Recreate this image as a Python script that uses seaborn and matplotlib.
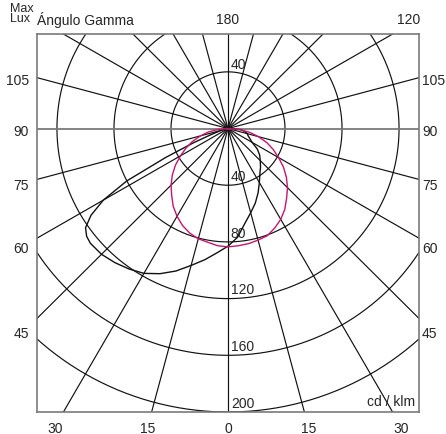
import numpy as np
import pandas as pd
import matplotlib
matplotlib.use("Agg")
import matplotlib.pyplot as plt
import matplotlib.transforms as mtransforms
import seaborn as sns

# ============================
# DATA (cd/klm)
# ============================

# C0 - C180 plane (black), left half = C180, right half = C0
GAMMA_C180 = [0, 5, 10, 15, 20, 25, 30, 35, 40, 45, 50, 52.5, 55, 57.5, 60, 62.5, 65, 67.5, 70, 75, 80, 90]
I_C180 = [83, 88, 94, 100, 107, 113, 118, 121, 123.5, 125.5, 126, 125, 122, 114, 101, 80, 48, 26, 13, 5, 2, 0]

GAMMA_C0 = [0, 5, 10, 15, 20, 25, 30, 35, 40, 45, 50, 55, 60, 65, 70, 75, 80, 85, 90]
I_C0 = [83.5, 77, 68, 61.5, 56, 50, 44, 39, 35.5, 32, 29, 25, 19.5, 17, 15, 14, 12, 9, 0]

# C90 - C270 plane (magenta)
GAMMA_C90 = [0, 5, 10, 15, 20, 25, 30, 35, 40, 45, 50, 55, 60, 65, 70, 75, 80, 85, 90]
I_C270 = [83.5, 83, 81.5, 80.5, 78.5, 75.5, 71.5, 67, 61.5, 56.5, 51, 45, 38.5, 32.5, 26.5, 20, 14, 7, 0]
I_C90 = [83.5, 83, 82.5, 81.5, 80.5, 77.5, 74, 69.5, 64, 59, 53.5, 47.5, 41, 35, 29, 22, 15.5, 8, 0]

RINGS = [40, 80, 120, 160, 200]
SIDE_TICKS = [105, 90, 75, 60, 45]
BOTTOM_TICKS = [30, 15, 0, 15, 30]
BOTTOM_SIGN = [-1, -1, 0, 1, 1]

# ============================
# LAYOUT
# ============================

W, H = 446, 435
XMAX = 134
YTOP = 66.7
YBOT = -200
BLACK = "#111111"
MAGENTA = "#c8146e"
GRAY = "#7a7a7a"


def half_curve(gammas, values, side):
    g = np.radians(np.array(gammas, dtype=float))
    r = np.array(values, dtype=float)
    return side * r * np.sin(g), -r * np.cos(g)


def plane_frame(g_left, i_left, g_right, i_right):
    xl, yl = half_curve(g_left, i_left, -1)
    xr, yr = half_curve(g_right, i_right, 1)
    x = np.concatenate([xl[::-1], xr[1:]])
    y = np.concatenate([yl[::-1], yr[1:]])
    return pd.DataFrame({"x": x, "y": y})


sns.set_style("white")
plt.rcParams["font.family"] = ["Liberation Sans", "DejaVu Sans"]

fig = plt.figure(figsize=(W / 100, H / 100), dpi=100)
ax = fig.add_axes([37 / W, 22 / H, 382 / W, 378 / H])
ax.set_xlim(-XMAX, XMAX)
ax.set_ylim(YBOT, YTOP)

# spokes every 15 degrees
for ang in range(0, 360, 15):
    a = np.radians(ang)
    horiz = ang in (90, 270)
    ax.plot([0, 400 * np.sin(a)], [0, -400 * np.cos(a)],
            color=GRAY if horiz else BLACK,
            lw=1.3 if horiz else 0.85, zorder=2 if horiz else 1)

# rings
t = np.linspace(0, 2 * np.pi, 400)
for r in RINGS:
    ax.plot(r * np.cos(t), r * np.sin(t), color=BLACK, lw=0.85, zorder=1)

# ring labels
ax.text(2, 40.5, "40", fontsize=10, ha="left", va="bottom", zorder=3)
for r in RINGS:
    ax.text(2, -r + 1.5, str(r), fontsize=10, ha="left", va="bottom", zorder=3)

# photometric curves
black_df = plane_frame(GAMMA_C180, I_C180, GAMMA_C0, I_C0)
magenta_df = plane_frame(GAMMA_C90, I_C270, GAMMA_C90, I_C90)
sns.lineplot(data=black_df, x="x", y="y", sort=False, estimator=None,
             color=BLACK, lw=1.0, ax=ax, zorder=4)
sns.lineplot(data=magenta_df, x="x", y="y", sort=False, estimator=None,
             color=MAGENTA, lw=1.0, ax=ax, zorder=4)

ax.set_xticks([])
ax.set_yticks([])
ax.set_xlabel("")
ax.set_ylabel("")
for s in ax.spines.values():
    s.set_color(GRAY)
    s.set_linewidth(1.2)
    s.set_visible(True)

# side labels (gamma angles where the spokes meet the frame)
side_tr = mtransforms.blended_transform_factory(ax.transAxes, ax.transData)
for g in SIDE_TICKS:
    yh = -XMAX * np.cos(np.radians(g)) / np.sin(np.radians(g))
    yl = yh - 2 - 0.06 * max(0, -yh)
    ax.text(-0.021, yl, str(g), transform=side_tr, ha="right", va="center",
            fontsize=10, clip_on=False)
    ax.text(1.008, yl, str(g), transform=side_tr, ha="left", va="center",
            fontsize=10, clip_on=False)

# bottom labels
for g, sgn in zip(BOTTOM_TICKS, BOTTOM_SIGN):
    xh = sgn * abs(YBOT) * np.tan(np.radians(g)) * 1.05
    ax.text(xh, YBOT - 11, str(g), ha="center", va="center", fontsize=10, clip_on=False)

ax.text(XMAX - 2.5, YBOT + 2.5, "cd / klm", ha="right", va="bottom", fontsize=10, zorder=3)

# header texts
fig.text(10 / W, 1 - 9 / H, "Max", fontsize=9, ha="left", va="center")
fig.text(10 / W, 1 - 19.5 / H, "Lux", fontsize=9, ha="left", va="center")
fig.text(37 / W, 1 - 20 / H, "Ángulo Gamma", fontsize=10, ha="left", va="center")
fig.text(228 / W, 1 - 20 / H, "180", fontsize=10, ha="center", va="center")
fig.text(420 / W, 1 - 20 / H, "120", fontsize=10, ha="right", va="center")

fig.savefig("out.png", dpi=100)
